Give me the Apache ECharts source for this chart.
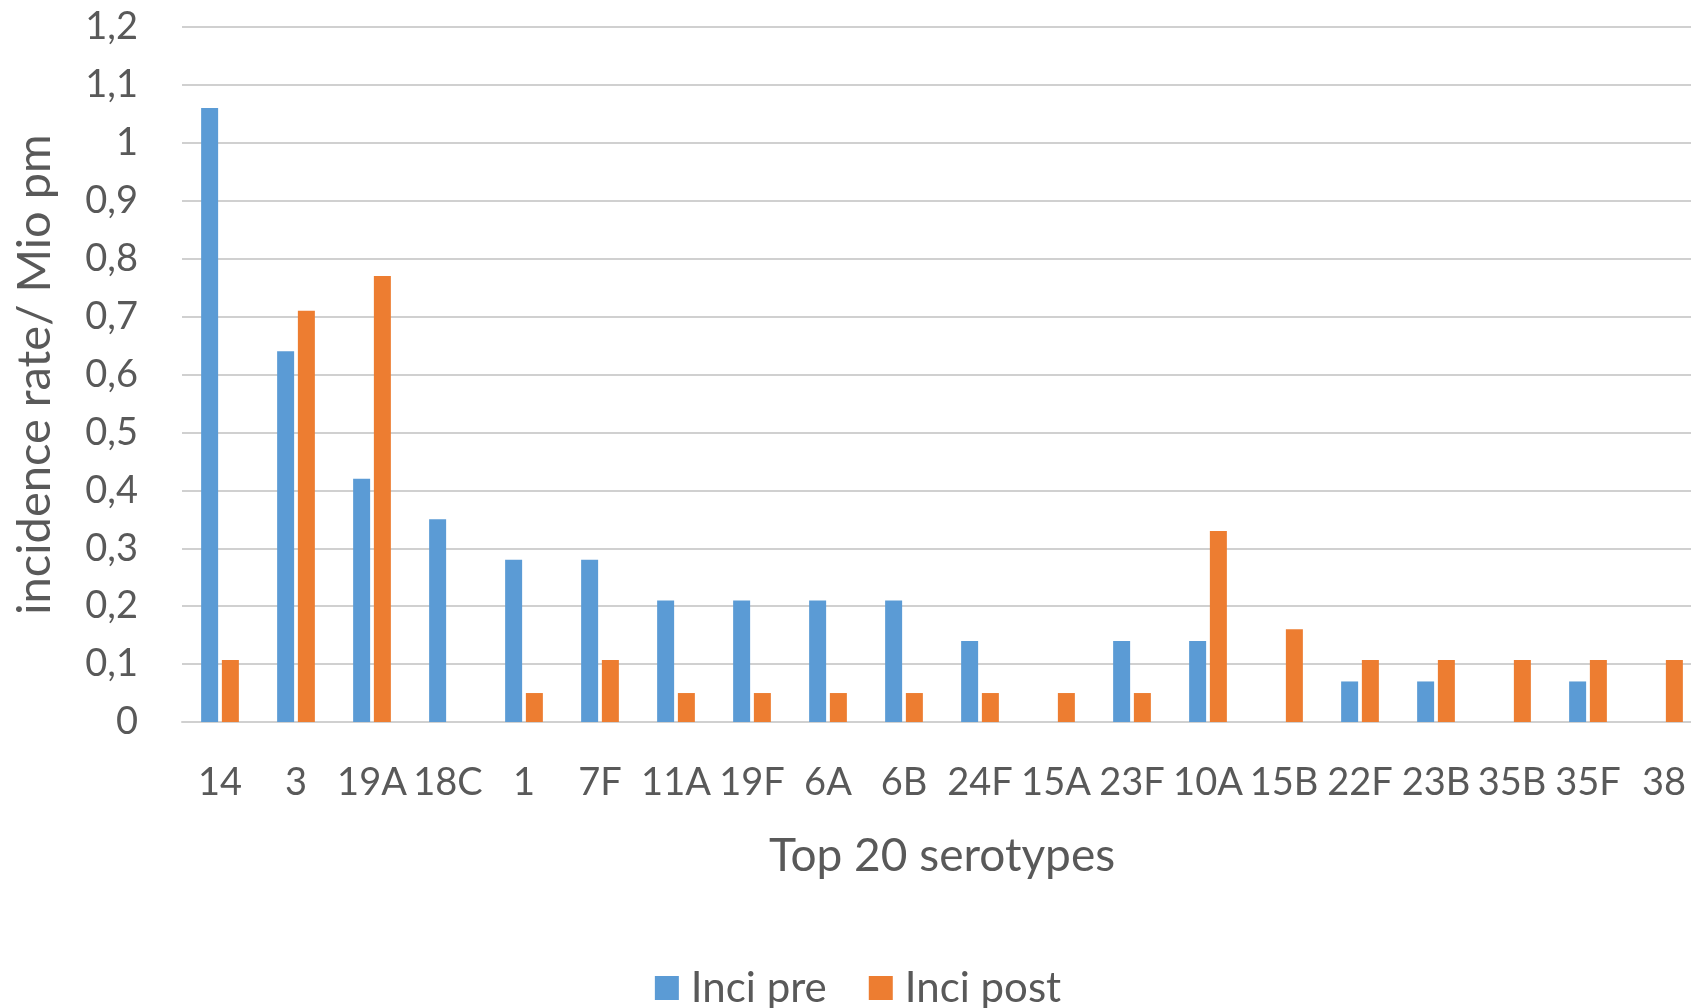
<!DOCTYPE html>
<html>
<head>
<meta charset="utf-8">
<script src="https://cdn.jsdelivr.net/npm/echarts@6/dist/echarts.min.js"></script>
<style>
html,body{margin:0;padding:0;overflow:hidden;background:#fff;}
#chart{width:1716px;height:1008px;}
</style>
</head>
<body>
<div id="chart"></div>
<script>
const categories = ['14','3','19A','18C','1','7F','11A','19F','6A','6B','24F','15A','23F','10A','15B','22F','23B','35B','35F','38'];
const inciPre  = [1.06,0.64,0.42,0.35,0.28,0.28,0.21,0.21,0.21,0.21,0.14,0,0.14,0.14,0,0.07,0.07,0,0.07,0];
const inciPost = [0.107,0.71,0.77,0,0.05,0.107,0.05,0.05,0.05,0.05,0.05,0.05,0.05,0.33,0.16,0.107,0.107,0.107,0.107,0.107];
const seriesNames = ['Inci pre','Inci post'];
const yTicks = {min:0, max:1.2, interval:0.1};
const xTitle = 'Top 20 serotypes';
const yTitle = 'incidence rate/ Mio pm';

const txt = '#595959';
const font = 'Lato';
const chart = echarts.init(document.getElementById('chart'));
chart.setOption({
  animation:false,
  textStyle:{fontFamily:font,color:txt},
  grid:{left:182,right:14,top:27,bottom:286},
  legend:{
    bottom:-6,left:'center',
    itemWidth:24,itemHeight:24,itemGap:42,
    icon:'rect',
    textStyle:{fontFamily:font,fontSize:42,color:txt,padding:[0,0,0,7]},
    data:seriesNames
  },
  xAxis:{
    type:'category',data:categories,
    axisLine:{lineStyle:{color:'#d0d0d0',width:2}},
    axisTick:{show:false},
    axisLabel:{fontFamily:font,fontSize:38,color:txt,margin:42,interval:0},
    name:xTitle,nameLocation:'middle',nameGap:111,
    nameTextStyle:{fontFamily:font,fontSize:46,color:txt}
  },
  yAxis:{
    type:'value',min:yTicks.min,max:yTicks.max,interval:yTicks.interval,
    axisLine:{show:false},axisTick:{show:false},
    splitLine:{lineStyle:{color:'#d0d0d0',width:2}},
    axisLabel:{fontFamily:font,fontSize:38,color:txt,margin:44,
      formatter:v=>String(Math.round(v*10)/10).replace('.',',')},
    name:yTitle,nameLocation:'middle',nameGap:124,
    nameTextStyle:{fontFamily:font,fontSize:47,color:txt}
  },
  series:[
    {name:seriesNames[0],type:'bar',data:inciPre,barWidth:17,barGap:'22%',itemStyle:{color:'#5B9BD5'}},
    {name:seriesNames[1],type:'bar',data:inciPost,barWidth:17,barGap:'22%',itemStyle:{color:'#ED7D31'}}
  ]
});
</script>
</body>
</html>
